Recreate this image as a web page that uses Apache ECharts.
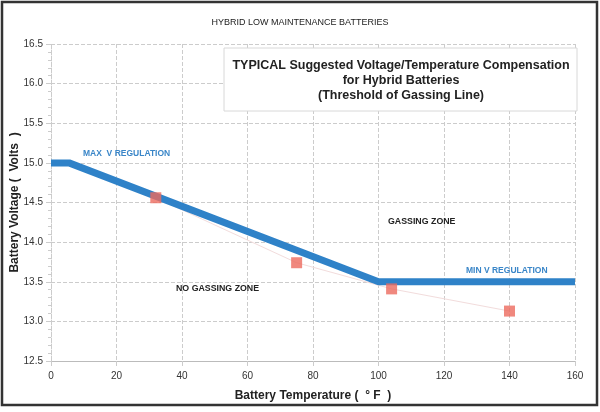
<!DOCTYPE html>
<html><head><meta charset="utf-8">
<script src="https://cdn.jsdelivr.net/npm/echarts@6/dist/echarts.min.js"></script>
<style>html,body{margin:0;padding:0;background:#fff}#c{width:600px;height:412px}</style>
</head><body><div id="c"></div>
<script>
const lineTemps = [0, 5.5, 100, 160];
const lineVolts = [15.0, 15.0, 13.5, 13.5];
const pointTemps = [32, 75, 104, 140];
const pointVolts = [14.56, 13.74, 13.41, 13.13];
const xTicks = [0, 20, 40, 60, 80, 100, 120, 140, 160];
const yTicks = [12.5, 13.0, 13.5, 14.0, 14.5, 15.0, 15.5, 16.0, 16.5];

const chart = echarts.init(document.getElementById('c'));
const lineData = lineTemps.map((t, i) => [t, lineVolts[i]]);
const pointData = pointTemps.map((t, i) => [t, pointVolts[i]]);
const ff = 'Liberation Sans, Arial, sans-serif';

chart.setOption({
  backgroundColor: '#fff',
  animation: false,
  title: {
    text: 'HYBRID LOW MAINTENANCE BATTERIES',
    left: 'center', top: 13,
    textStyle: { fontFamily: ff, fontSize: 9, fontWeight: 'normal', color: '#222' }
  },
  grid: { left: 51, right: 25, top: 44, bottom: 51, containLabel: false, outerBoundsMode: 'none' },
  xAxis: {
    type: 'value', min: xTicks[0], max: xTicks[xTicks.length - 1], interval: 20,
    name: 'Battery Temperature (  ° F  )', nameLocation: 'middle', nameGap: 29,
    nameTextStyle: { fontFamily: ff, fontSize: 12, fontWeight: 'bold', color: '#222' },
    axisLine: { lineStyle: { color: '#bbb' } },
    axisTick: { show: true, lineStyle: { color: '#ccc' } },
    axisLabel: { fontFamily: ff, fontSize: 10, color: '#333', margin: 10 },
    splitLine: { show: true, lineStyle: { type: 'dashed', color: '#ccc' } }
  },
  yAxis: {
    type: 'value', min: yTicks[0], max: yTicks[yTicks.length - 1], interval: 0.5,
    name: 'Battery Voltage (  Volts  )', nameLocation: 'middle', nameGap: 30,
    nameMoveOverlap: false,
    nameTextStyle: { fontFamily: ff, fontSize: 12, fontWeight: 'bold', color: '#222' },
    axisLine: { show: true, lineStyle: { color: '#ccc', type: 'dashed' } },
    axisTick: { show: true, lineStyle: { color: '#ccc' } },
    minorTick: { show: true, splitNumber: 5, length: 3, lineStyle: { color: '#ccc' } },
    axisLabel: { fontFamily: ff, fontSize: 10, color: '#333', formatter: v => v.toFixed(1) },
    splitLine: { show: true, lineStyle: { type: 'dashed', color: '#ccc' } }
  },
  series: [
    {
      type: 'line', data: pointData, symbol: 'none', z: 1,
      lineStyle: { width: 1, color: '#f2dcdc' }
    },
    {
      type: 'line', data: lineData, symbol: 'none', z: 2,
      lineStyle: { width: 7, color: '#2f82c8' }
    },
    {
      type: 'scatter', data: pointData, symbol: 'rect', symbolSize: 11, z: 3,
      itemStyle: { color: '#ec6a5e' }
    }
  ],
  graphic: [
    { type: 'rect', shape: { x: 224, y: 48, width: 353, height: 63 },
      style: { fill: '#fff', stroke: '#d8d8d8', lineWidth: 1 }, z: 10 },
    { type: 'text', x: 401, y: 58, z: 11,
      style: { text: 'TYPICAL Suggested Voltage/Temperature Compensation\nfor Hybrid Batteries\n(Threshold of Gassing Line)',
        align: 'center', fontFamily: ff, fontSize: 12.5, fontWeight: 'bold', fill: '#222', lineHeight: 15 } },
    { type: 'text', x: 83, y: 149, z: 11,
      style: { text: 'MAX  V REGULATION', fontFamily: ff, fontSize: 8.5, fontWeight: 'bold', fill: '#3a86c8' } },
    { type: 'text', x: 466, y: 266, z: 11,
      style: { text: 'MIN V REGULATION', fontFamily: ff, fontSize: 8.5, fontWeight: 'bold', fill: '#3a86c8' } },
    { type: 'text', x: 388, y: 217, z: 11,
      style: { text: 'GASSING ZONE', fontFamily: ff, fontSize: 8.8, fontWeight: 'bold', fill: '#222' } },
    { type: 'text', x: 176, y: 284, z: 11,
      style: { text: 'NO GASSING ZONE', fontFamily: ff, fontSize: 8.8, fontWeight: 'bold', fill: '#222' } },
    { type: 'rect', shape: { x: 2, y: 2, width: 595, height: 403 },
      style: { fill: 'none', stroke: '#333', lineWidth: 2.5 }, z: 20 }
  ]
});
</script></body></html>
